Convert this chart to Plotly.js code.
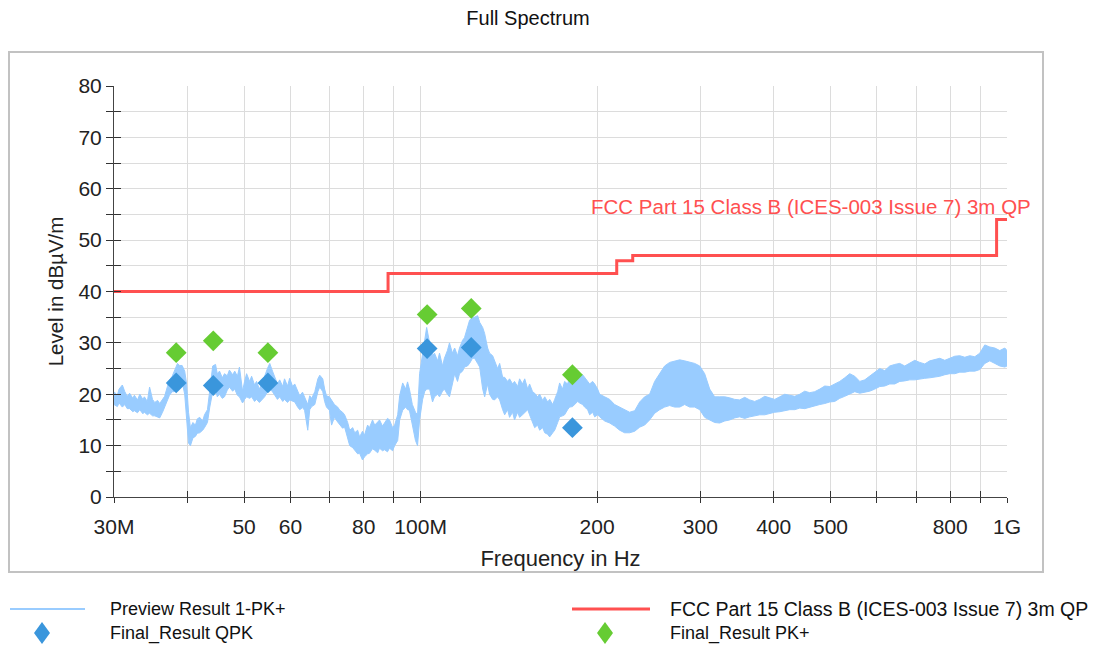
<!DOCTYPE html>
<html>
<head>
<meta charset="utf-8">
<script src="https://cdn.plot.ly/plotly-3.0.1.min.js"></script>
<style>
  html, body { margin: 0; padding: 0; background: #ffffff; }
  #chart { width: 1103px; height: 649px; }
</style>
</head>
<body>
<div id="chart"></div>
<script>
// ---------------- DATA ----------------
const chartTitle = 'Full Spectrum';
const xAxisTitle = 'Frequency in Hz';
const yAxisTitle = 'Level in dBµV/m';
const seriesNames = ['Preview Result 1-PK+', 'FCC Part 15 Class B (ICES-003 Issue 7) 3m QP', 'Final_Result QPK', 'Final_Result PK+'];
const limitLabel = 'FCC Part 15 Class B (ICES-003 Issue 7) 3m QP';

// Preview Result 1-PK+ : frequency (MHz) with upper / lower edge of the noisy trace (dBµV/m)
const previewFreq = [
  30.0, 30.4, 30.6, 31.0, 31.3, 31.6, 31.9, 32.3, 32.5, 32.9, 33.2, 33.6, 33.8, 34.2, 34.5, 34.9, 35.2, 35.6, 35.9, 36.3,
  36.6, 37.0, 37.3, 37.7, 38.0, 38.5, 38.8, 39.2, 39.6, 39.9, 40.2, 40.5, 40.9, 41.3, 41.6, 42.0, 42.5, 42.8, 43.3, 43.7,
  44.2, 44.7, 45.0, 45.4, 45.9, 46.3, 46.8, 47.2, 47.8, 48.2, 48.7, 49.1, 49.7, 50.1, 50.5, 51.1, 51.5, 52.1, 52.5, 53.1,
  53.8, 54.2, 54.8, 55.3, 55.9, 56.4, 57.0, 57.5, 58.2, 58.6, 59.3, 59.8, 60.5, 61.0, 61.7, 62.2, 62.9, 63.4, 64.2, 64.7,
  65.2, 66.0, 66.8, 67.3, 68.1, 68.6, 69.1, 69.9, 70.5, 71.3, 72.2, 72.8, 73.6, 74.2, 75.1, 75.7, 76.6, 77.2, 78.1, 78.7,
  79.6, 80.2, 81.2, 81.8, 82.8, 83.5, 84.5, 85.1, 86.1, 86.8, 87.8, 88.5, 89.6, 90.3, 91.4, 92.1, 93.2, 94.3, 95.0, 95.7,
  96.8, 98.0, 98.8, 99.6, 100.8, 101.6, 102.4, 103.6, 104.8, 105.6, 106.9, 107.7, 109.0, 109.8, 111.1, 112.0, 113.3, 114.3, 115.6, 116.5,
  117.9, 118.8, 120.2, 121.2, 122.6, 123.6, 125.1, 126.1, 127.6, 128.6, 130.1, 131.1, 132.7, 133.7, 135.3, 136.4, 138.0, 139.1, 140.7, 141.8,
  143.5, 144.6, 146.4, 147.5, 149.2, 150.5, 152.3, 153.4, 155.2, 156.5, 158.3, 159.6, 161.5, 162.8, 164.7, 166.0, 168.0, 169.3, 171.3, 172.6,
  174.6, 176.0, 178.1, 179.5, 181.6, 183.1, 185.3, 186.7, 188.9, 190.4, 192.7, 194.2, 196.5, 198.1, 200.4, 202.0, 206.0, 210.1, 214.2, 218.5,
  222.8, 227.2, 231.8, 236.4, 241.0, 245.8, 250.7, 255.7, 260.7, 265.9, 271.2, 276.6, 282.0, 287.6, 293.3, 299.2, 305.1, 311.2, 317.3, 323.6,
  330.1, 336.6, 343.3, 350.1, 357.0, 364.1, 371.3, 378.7, 386.2, 393.9, 401.7, 409.7, 417.8, 426.1, 434.5, 443.2, 451.9, 460.9, 470.0, 479.4,
  488.9, 498.6, 508.4, 518.5, 528.8, 539.3, 550.0, 560.9, 572.0, 583.3, 594.9, 606.7, 618.7, 631.0, 643.5, 656.3, 669.3, 682.6, 696.1, 709.9,
  724.0, 738.4, 753.0, 768.0, 783.2, 798.8, 814.6, 830.8, 847.3, 864.1, 881.2, 898.7, 916.5, 934.7, 953.2, 972.1, 991.4, 1000.0
];
const previewMax = [
  20.5, 19.8, 21.0, 21.8, 20.5, 19.6, 20.2, 19.2, 19.8, 18.9, 20.0, 19.0, 19.5, 18.6, 21.4, 19.0, 18.4, 18.8, 18.2, 19.0,
  19.6, 21.5, 22.8, 23.5, 24.5, 26.0, 25.6, 25.6, 24.5, 22.0, 16.5, 13.5, 14.5, 14.0, 15.2, 15.5, 14.8, 16.0, 17.0, 21.4,
  25.5, 25.8, 24.0, 24.5, 23.2, 24.0, 23.6, 24.7, 23.8, 24.5, 23.5, 25.3, 20.6, 22.5, 24.0, 22.5, 23.5, 21.8, 22.5, 21.0,
  22.5, 23.5, 25.0, 26.0, 24.5, 23.5, 22.0, 22.8, 21.5, 23.0, 21.6, 23.1, 21.5, 22.0, 20.5, 19.7, 20.4, 19.5, 18.0, 19.7,
  19.2, 20.5, 23.0, 23.7, 23.0, 21.0, 19.7, 19.5, 18.8, 18.0, 17.5, 16.9, 16.5, 16.0, 14.5, 13.0, 13.5, 12.5, 13.0, 11.7,
  12.8, 12.0, 14.0, 13.5, 15.0, 14.0, 14.6, 15.0, 13.8, 14.5, 15.3, 15.0, 13.5, 14.0, 16.0, 19.7, 22.2, 21.0, 22.4, 21.0,
  18.0, 16.5, 16.0, 24.0, 28.0, 30.0, 33.0, 30.0, 27.5, 28.0, 26.5, 28.0, 25.5, 27.0, 28.5, 30.0, 28.0, 29.0, 27.5, 29.0,
  30.5, 31.0, 33.0, 34.4, 35.0, 35.0, 35.3, 34.0, 33.0, 31.8, 29.0, 28.0, 27.5, 26.6, 25.0, 26.0, 23.3, 23.3, 22.5, 23.0,
  22.0, 22.5, 21.5, 23.0, 22.0, 23.0, 21.0, 22.0, 20.5, 20.2, 19.5, 20.0, 18.8, 19.5, 18.5, 19.0, 18.0, 19.0, 20.5, 22.2,
  21.0, 22.5, 22.0, 23.3, 22.8, 24.0, 23.0, 23.5, 23.8, 23.3, 22.5, 22.0, 22.5, 22.0, 21.0, 20.0, 19.5, 19.0, 18.0, 17.5,
  17.0, 16.5, 16.8, 18.5, 19.5, 20.0, 22.5, 24.0, 25.5, 26.2, 26.5, 26.7, 26.5, 26.3, 26.0, 25.5, 24.0, 21.0, 19.5, 19.5,
  19.5, 19.3, 19.0, 18.9, 19.4, 18.9, 18.6, 19.0, 19.6, 19.3, 19.0, 19.5, 20.0, 19.8, 19.6, 20.0, 20.6, 20.3, 20.5, 21.0,
  21.6, 21.5, 22.0, 22.5, 23.2, 24.0, 23.5, 22.5, 22.8, 23.5, 24.2, 25.0, 24.6, 25.5, 25.8, 26.0, 25.5, 26.0, 26.6, 26.2,
  25.9, 26.5, 26.8, 27.0, 26.6, 27.0, 27.4, 27.5, 27.2, 27.5, 27.3, 28.0, 29.6, 29.2, 29.0, 28.5, 29.0, 28.5
];
const previewMin = [
  18.0, 17.6, 18.3, 17.5, 18.0, 17.2, 17.2, 16.6, 16.8, 16.4, 17.0, 16.2, 16.5, 16.0, 16.3, 15.8, 15.8, 15.6, 15.4, 16.5,
  17.4, 18.8, 19.8, 20.5, 20.5, 21.5, 22.0, 22.5, 20.0, 15.0, 10.5, 10.0, 11.5, 11.8, 12.4, 12.5, 13.0, 13.5, 14.5, 17.5,
  20.5, 21.0, 19.5, 20.0, 19.2, 19.5, 20.8, 21.4, 20.6, 21.0, 19.8, 19.5, 18.3, 19.0, 19.5, 19.2, 19.5, 18.6, 19.0, 18.4,
  19.0, 19.5, 20.5, 21.0, 20.5, 19.8, 19.0, 19.5, 18.6, 19.0, 18.4, 18.9, 18.6, 18.5, 17.5, 17.0, 17.4, 16.9, 13.0, 17.0,
  17.6, 18.0, 20.5, 21.4, 20.5, 18.6, 17.5, 16.9, 14.0, 15.5, 14.6, 14.0, 13.4, 13.6, 11.5, 10.0, 9.6, 9.1, 8.4, 8.5,
  7.2, 7.8, 8.4, 8.5, 9.4, 9.1, 8.6, 9.5, 9.0, 9.2, 8.8, 9.5, 9.0, 10.0, 11.0, 15.0, 16.9, 17.5, 17.0, 16.9,
  13.7, 11.0, 10.0, 15.0, 19.0, 20.5, 21.0, 21.0, 18.5, 19.5, 20.0, 19.5, 20.6, 21.0, 20.0, 19.5, 22.0, 24.0, 22.5, 24.0,
  24.5, 25.3, 25.5, 26.0, 27.0, 27.0, 26.0, 25.3, 21.0, 19.5, 22.0, 20.0, 19.0, 18.9, 19.5, 18.9, 17.0, 16.0, 17.0, 15.5,
  16.5, 15.0, 16.5, 15.5, 16.0, 16.4, 17.0, 16.0, 14.5, 13.5, 14.0, 13.0, 13.5, 12.5, 12.2, 11.7, 12.5, 13.0, 14.5, 15.6,
  15.8, 16.0, 17.0, 17.5, 17.6, 18.0, 18.6, 18.3, 18.0, 17.5, 17.0, 16.0, 16.5, 15.6, 16.0, 15.6, 14.8, 14.4, 13.8, 13.0,
  12.5, 12.5, 12.8, 13.6, 14.0, 15.0, 16.3, 17.0, 17.5, 17.8, 17.5, 17.5, 18.0, 17.5, 17.5, 17.0, 15.5, 15.0, 14.5, 14.4,
  14.8, 15.0, 15.4, 15.6, 15.3, 15.6, 15.8, 16.0, 16.0, 16.3, 16.5, 16.6, 16.8, 17.0, 17.0, 17.3, 17.2, 17.5, 17.8, 18.0,
  18.2, 18.5, 18.6, 19.2, 19.6, 20.0, 20.5, 20.2, 20.4, 20.6, 21.0, 21.5, 21.6, 22.0, 22.0, 22.5, 22.6, 22.8, 22.8, 23.0,
  23.1, 23.2, 23.3, 23.5, 23.8, 24.0, 24.0, 24.3, 24.3, 24.5, 24.5, 24.8, 26.0, 26.5, 26.0, 25.5, 25.3, 25.5
];

// FCC Part 15 Class B (ICES-003 Issue 7) 3m QP limit (step line)
const limitFreq  = [30, 88, 216, 230, 960, 1000];
const limitLevel = [40, 43.5, 46, 47, 54, 54];

// Final results
const finalFreq     = [38.3, 44.3, 54.9, 102.6, 122.0, 181.5];
const finalQPKLevel = [22.2, 21.7, 22.2, 28.9, 29.1, 13.5];
const finalPKLevel  = [28.1, 30.4, 28.1, 35.5, 36.7, 23.8];

// Axis ticks
const xTickVals = [30, 40, 50, 60, 70, 80, 90, 100, 200, 300, 400, 500, 600, 700, 800, 900, 1000];
const xTickText = ['30M', '', '50', '60', '', '80', '', '100M', '200', '300', '400', '500', '', '', '800', '', '1G'];
const yTickVals = [0, 5, 10, 15, 20, 25, 30, 35, 40, 45, 50, 55, 60, 65, 70, 75, 80];
const yTickText = ['0', '', '10', '', '20', '', '30', '', '40', '', '50', '', '60', '', '70', '', '80'];

// ---------------- STYLE ----------------
const FONT = 'Liberation Sans, Arial, Helvetica, sans-serif';
const cPreview = 'rgb(153,204,255)';
const cLimit = 'rgb(255,80,80)';
const cQPK = 'rgb(58,150,220)';
const cPK = 'rgb(102,204,51)';

// plot area in pixels (for paper-coordinate decorations)
const PL = 114, PR = 1007, PT = 86, PB = 497;
const px = v => (v - PL) / (PR - PL);
const py = v => (PB - v) / (PB - PT);

const traces = [
  { x: previewFreq, y: previewMin, type: 'scatter', mode: 'lines',
    line: { color: cPreview, width: 1 }, showlegend: false, hoverinfo: 'skip' },
  { x: previewFreq, y: previewMax, type: 'scatter', mode: 'lines', name: seriesNames[0],
    fill: 'tonexty', fillcolor: cPreview,
    line: { color: cPreview, width: 1 }, showlegend: false },
  { x: limitFreq, y: limitLevel, type: 'scatter', mode: 'lines', name: seriesNames[1],
    line: { color: cLimit, width: 3, shape: 'hv' }, showlegend: false },
  { x: finalFreq, y: finalQPKLevel, type: 'scatter', mode: 'markers', name: seriesNames[2],
    marker: { symbol: 'diamond', size: 16, color: cQPK }, showlegend: false },
  { x: finalFreq, y: finalPKLevel, type: 'scatter', mode: 'markers', name: seriesNames[3],
    marker: { symbol: 'diamond', size: 16, color: cPK }, showlegend: false },
  { x: [], y: [], xaxis: 'x2', yaxis: 'y2', type: 'scatter', mode: 'lines', showlegend: false, hoverinfo: 'skip' }
];

const diamond = (cx, cy, color) => {
  const dx = 8 / (PR - PL), dy = 11 / (PB - PT);
  const x = px(cx), y = py(cy);
  return { type: 'path', xref: 'paper', yref: 'paper',
    path: `M ${x - dx} ${y} L ${x} ${y + dy} L ${x + dx} ${y} L ${x} ${y - dy} Z`,
    fillcolor: color, line: { width: 0 } };
};

const shapes = [
  // outer frame
  { type: 'rect', xref: 'paper', yref: 'paper', x0: px(9), x1: px(1043), y0: py(572), y1: py(52),
    line: { color: '#c2c2c2', width: 2 }, layer: 'below' },
  // legend samples
  { type: 'line', xref: 'paper', yref: 'paper', x0: px(10), x1: px(85), y0: py(609), y1: py(609),
    line: { color: cPreview, width: 2 } },
  { type: 'line', xref: 'paper', yref: 'paper', x0: px(572), x1: px(650), y0: py(609), y1: py(609),
    line: { color: cLimit, width: 3 } },
  diamond(42, 633, cQPK),
  diamond(605, 633, cPK)
];

const legFont = { family: FONT, size: 18, color: '#111' };
const annotations = [
  { x: 3, y: 54, xref: 'x', yref: 'y', text: limitLabel, showarrow: false,
    xanchor: 'right', yanchor: 'bottom', xshift: 26, yshift: 0,
    font: { family: FONT, size: 20.5, color: cLimit } },
  { x: px(108), y: py(609), xref: 'paper', yref: 'paper', text: seriesNames[0], showarrow: false,
    xanchor: 'left', yanchor: 'middle', font: legFont },
  { x: px(108), y: py(633), xref: 'paper', yref: 'paper', text: seriesNames[2], showarrow: false,
    xanchor: 'left', yanchor: 'middle', font: legFont },
  { x: px(668), y: py(609), xref: 'paper', yref: 'paper', text: seriesNames[1], showarrow: false,
    xanchor: 'left', yanchor: 'middle', font: { family: FONT, size: 19.5, color: '#111' } },
  { x: px(668), y: py(633), xref: 'paper', yref: 'paper', text: seriesNames[3], showarrow: false,
    xanchor: 'left', yanchor: 'middle', font: legFont }
];

const layout = {
  width: 1103, height: 649,
  margin: { l: PL, r: 1103 - PR, t: PT, b: 649 - PB, pad: 0 },
  paper_bgcolor: '#ffffff', plot_bgcolor: '#ffffff',
  font: { family: FONT, color: '#222' },
  showlegend: false,
  title: { text: chartTitle, font: { family: FONT, size: 20, color: '#111' },
    x: 528 / 1103, xanchor: 'center', xref: 'container', y: 1 - 18 / 649, yanchor: 'middle', yref: 'container' },
  xaxis: {
    type: 'log', range: [Math.log10(30), 3], autorange: false,
    tickvals: xTickVals, ticktext: xTickText,
    ticks: 'outside', ticklen: 5, tickcolor: '#333', tickwidth: 1,
    ticklabelstandoff: 6,
    tickfont: { family: FONT, size: 21, color: '#222' },
    showline: true, linecolor: '#444', linewidth: 1,
    showgrid: true, gridcolor: '#dcdcdc', gridwidth: 1, zeroline: false,
    title: { text: xAxisTitle, font: { family: FONT, size: 22, color: '#222' }, standoff: 13 }
  },
  yaxis: {
    range: [0, 80], autorange: false,
    tickvals: yTickVals, ticktext: yTickText,
    ticks: 'outside', ticklen: 7, tickcolor: '#333', tickwidth: 1,
    tickfont: { family: FONT, size: 21, color: '#222' },
    showline: true, linecolor: '#444', linewidth: 1,
    showgrid: true, gridcolor: '#dcdcdc', gridwidth: 1, zeroline: false,
    title: { text: yAxisTitle, font: { family: FONT, size: 20.5, color: '#222' }, standoff: 9 }
  },
  xaxis2: {
    type: 'log', range: [Math.log10(30), 3], autorange: false, overlaying: 'x', anchor: 'y2', side: 'bottom',
    tickvals: xTickVals, ticks: 'inside', ticklen: 6, tickcolor: '#333',
    showticklabels: false, showgrid: false, showline: false, zeroline: false
  },
  yaxis2: {
    range: [0, 80], autorange: false, overlaying: 'y', anchor: 'x2', side: 'left',
    tickvals: yTickVals, ticks: 'inside', ticklen: 7, tickcolor: '#333',
    showticklabels: false, showgrid: false, showline: false, zeroline: false
  },
  shapes: shapes,
  annotations: annotations
};

Plotly.newPlot('chart', traces, layout, { staticPlot: true, displayModeBar: false });
</script>
</body>
</html>
